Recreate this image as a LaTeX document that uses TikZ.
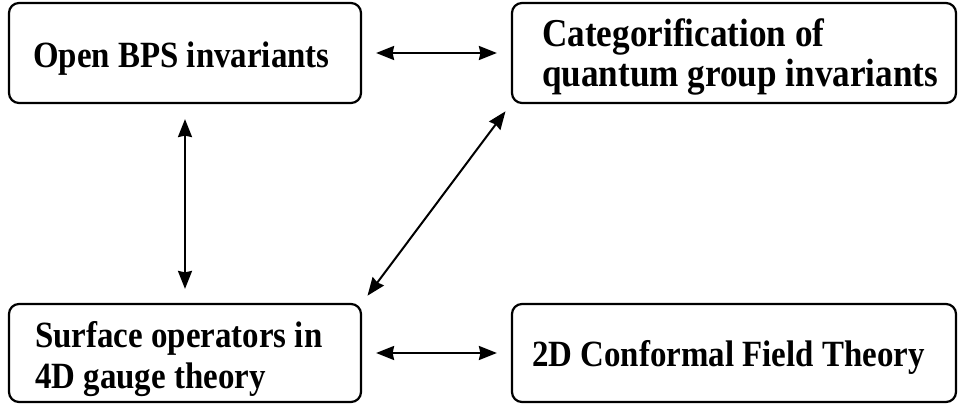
\documentclass[tikz,border=0pt]{standalone}
\usepackage{fontspec}
\setmainfont[FakeStretch=0.89]{Liberation Serif}
\usetikzlibrary{arrows.meta}
\begin{document}
\begin{tikzpicture}[x=1pt,y=-1pt,
  box/.style={draw,line width=2.2pt,rounded corners=10pt,minimum height=100pt,inner sep=0pt,anchor=center},
  label/.style={anchor=base west,inner sep=0pt,align=left,font=\fontsize{37}{40.5}\selectfont\bfseries},
  link/.style={line width=2pt,{Stealth[length=18pt,width=14pt,inset=1.5pt]}-{Stealth[length=18pt,width=14pt,inset=1.5pt]}}]
\useasboundingbox (0,0) rectangle (959,404);
\node[box,minimum width=352pt] (obps) at (185,53) {};
\node[box,minimum width=444pt] (cat) at (734,53) {};
\node[box,minimum width=352pt,minimum height=98pt] (surf) at (185,353) {};
\node[box,minimum width=444pt,minimum height=98pt] (cft) at (734,353) {};
\node[label] (tobps) at (33,68) {Open BPS invariants};
\node[label,font=\fontsize{39.5}{40}\selectfont\bfseries] (tcat) at (542,86.7) {Categorification of\\quantum group invariants};
\node[label] (tsurf) at (35,388) {Surface operators in\\4D gauge theory};
\node[label] (tcft) at (532,366.7) {2D Conformal Field Theory};
\draw[link,shorten <=14pt,shorten >=14pt] (obps.east) -- (cat.west);
\draw[link,shorten <=14pt,shorten >=14pt] (surf.east) -- (cft.west);
\draw[link,shorten <=15pt,shorten >=14pt] (obps.south) -- (surf.north);
\draw[link,shorten <=9pt,shorten >=9pt] (surf.north east) -- (cat.south west);
\end{tikzpicture}
\end{document}
